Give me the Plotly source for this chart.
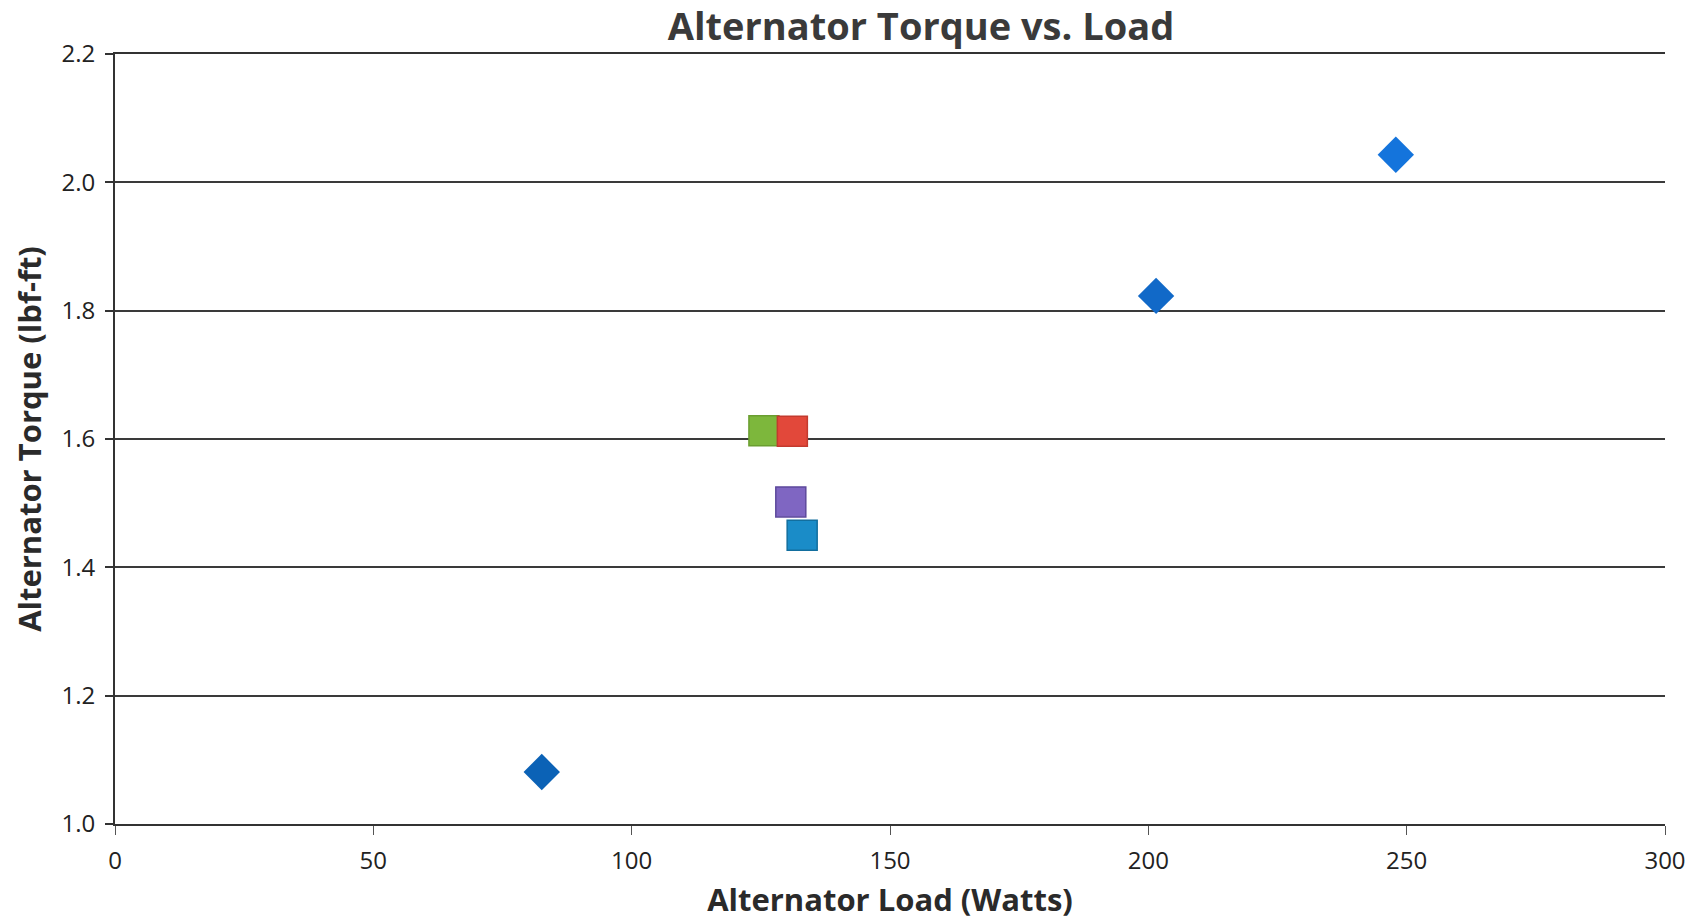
import plotly.graph_objects as go

# Data
diamond_load = [82.6, 201.5, 247.9]
diamond_torque = [1.081, 1.823, 2.043]
diamond_colors = ["#0B62B6", "#1169C8", "#1474DC"]

square_load = [125.6, 131.1, 130.8, 133.0]
square_torque = [1.613, 1.612, 1.502, 1.450]
square_colors = ["#7DB73C", "#E2483A", "#7F66C2", "#1A8CC8"]
square_edges = ["#6A9E30", "#C33A2E", "#5E4A9C", "#126E9E"]

x_ticks = [0, 50, 100, 150, 200, 250, 300]
y_ticks = [1.0, 1.2, 1.4, 1.6, 1.8, 2.0, 2.2]

fig = go.Figure()

fig.add_trace(go.Scatter(
    x=diamond_load, y=diamond_torque, mode="markers",
    marker=dict(symbol="diamond", size=28, color=diamond_colors,
                line=dict(width=0)),
    showlegend=False, cliponaxis=False))

fig.add_trace(go.Scatter(
    x=square_load, y=square_torque, mode="markers",
    marker=dict(symbol="square", size=30, color=square_colors,
                line=dict(width=1.5, color=square_edges)),
    showlegend=False, cliponaxis=False))

font_family = "Open Sans, Liberation Sans, sans-serif"

fig.update_layout(
    width=1700, height=923,
    paper_bgcolor="white", plot_bgcolor="white",
    margin=dict(l=107, r=43, t=46, b=107),
    title=dict(text="<b>Alternator Torque vs. Load</b>",
               x=0.520, xref="paper", xanchor="center",
               y=0.98, yref="container", yanchor="middle",
               font=dict(family=font_family, size=38, color="#3a3a3a")),
    font=dict(family=font_family, color="#222"),
    xaxis=dict(range=[0, 300], tickvals=x_ticks, ticktext=[str(v) for v in x_ticks],
               showgrid=False, zeroline=False,
               showline=True, mirror=True, linecolor="#333", linewidth=1.8,
               ticks="outside", ticklen=9, tickcolor="#555", tickwidth=1,
               ticklabelstandoff=5,
               tickfont=dict(size=24, color="#222"),
               title=dict(text="<b>Alternator Load (Watts)</b>",
                          font=dict(size=31, color="#2a2a2a"), standoff=15)),
    yaxis=dict(range=[1.0, 2.2], tickvals=y_ticks,
               ticktext=[f"{v:.1f}" for v in y_ticks],
               showgrid=True, gridcolor="#3a3a3a", gridwidth=1.6,
               zeroline=False,
               showline=True, linecolor="#333", linewidth=2,
               ticks="outside", ticklen=8, tickcolor="#333", tickwidth=1.5,
               ticklabelstandoff=5,
               tickfont=dict(size=24, color="#222"),
               title=dict(text="<b>Alternator Torque (lbf-ft)</b>",
                          font=dict(size=31, color="#2a2a2a"), standoff=18)),
)

fig.write_html("out.html")
